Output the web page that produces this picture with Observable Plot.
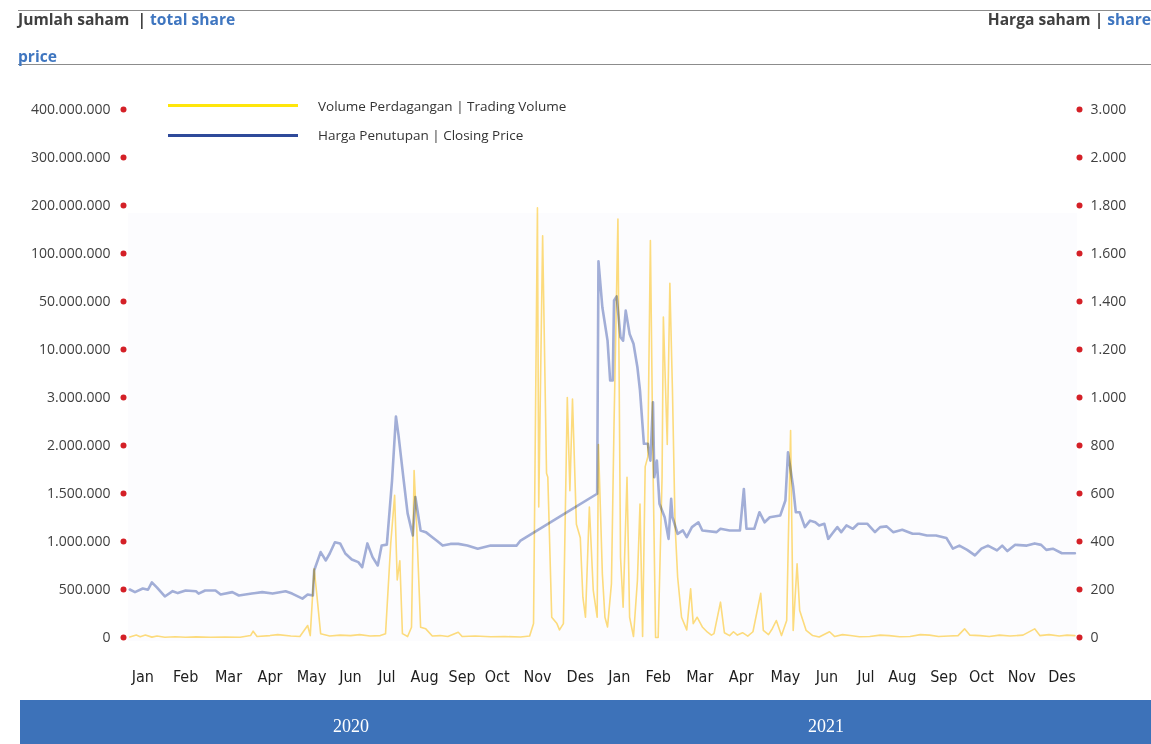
<!DOCTYPE html>
<html><head><meta charset="utf-8">
<script src="https://cdn.jsdelivr.net/npm/d3@7"></script>
<script src="https://cdn.jsdelivr.net/npm/@observablehq/plot@0.6"></script>
<style>
html,body{margin:0;padding:0;background:#fff;}
#wrap{position:relative;width:1151px;height:744px;overflow:hidden;font-family:"Open Sans",sans-serif;}
.hline{position:absolute;left:18px;width:1133px;height:0;border-top:1.6px solid #8c8c8c;}
.head{position:absolute;font-weight:700;font-size:15.6px;line-height:20px;color:#404040;white-space:pre;}
.blue{color:#3F76C0;}
.lg-line{position:absolute;left:168px;width:130px;height:2.5px;}
.lg-text{position:absolute;left:318px;font-size:13.5px;color:#333;line-height:18px;white-space:pre;}
#bg{position:absolute;left:128px;top:213px;width:949px;height:428px;background:#fcfcfe;}
#plots svg{position:absolute;left:0;top:0;}
#yearbar{position:absolute;left:20px;top:700px;width:1131px;height:44px;background:#3D72B9;}
.year{position:absolute;top:716px;width:80px;text-align:center;font-family:"Liberation Serif",serif;font-size:18px;color:#fff;}
</style>
</head><body>
<div id="wrap">
  <div class="hline" style="top:10px"></div>
  <div class="hline" style="top:64px"></div>
  <div class="head" style="left:18px;top:9px">Jumlah saham  | <span class="blue">total share</span></div>
  <div class="head blue" style="left:18px;top:46px">price</div>
  <div class="head" style="right:0;top:9px">Harga saham | <span class="blue">share</span></div>
  <div id="bg"></div>
  <div id="plots"></div>
  <div class="lg-line" style="top:104px;background:#FFE60A"></div>
  <div class="lg-text" style="top:97px">Volume Perdagangan | Trading Volume</div>
  <div class="lg-line" style="top:134px;background:#2F4A9A"></div>
  <div class="lg-text" style="top:126px">Harga Penutupan | Closing Price</div>
  <div id="yearbar"></div>
  <div class="year" style="left:311px">2020</div>
  <div class="year" style="left:786px">2021</div>
</div>
<script>
// ---- axis ticks & labels ----
const leftTicks = [0, 500000, 1000000, 1500000, 2000000, 3000000, 10000000, 50000000, 100000000, 200000000, 300000000, 400000000];
const leftLabels = ["0","500.000","1.000.000","1.500.000","2.000.000","3.000.000","10.000.000","50.000.000","100.000.000","200.000.000","300.000.000","400.000.000"];
const rightTicks = [0, 200, 400, 600, 800, 1000, 1200, 1400, 1600, 1800, 2000, 3000];
const rightLabels = ["0","200","400","600","800","1.000","1.200","1.400","1.600","1.800","2.000","3.000"];
const monthLabels = ["Jan","Feb","Mar","Apr","May","Jun","Jul","Aug","Sep","Oct","Nov","Des","Jan","Feb","Mar","Apr","May","Jun","Jul","Aug","Sep","Oct","Nov","Des"];
const monthLabelDates = ["2020-01-12","2020-02-14","2020-03-18","2020-04-19","2020-05-21","2020-06-20","2020-07-18","2020-08-16","2020-09-14","2020-10-11","2020-11-11","2020-12-14","2021-01-13","2021-02-12","2021-03-16","2021-04-17","2021-05-21","2021-06-22","2021-07-22","2021-08-19","2021-09-20","2021-10-19","2021-11-19","2021-12-20"];

// ---- closing price (Harga Penutupan) ----
const priceDates = ["2020-01-02","2020-01-06","2020-01-12","2020-01-16","2020-01-19","2020-01-23","2020-01-29","2020-02-04","2020-02-08","2020-02-14","2020-02-22","2020-02-24","2020-02-29","2020-03-08","2020-03-12","2020-03-21","2020-03-26","2020-04-05","2020-04-13","2020-04-21","2020-05-01","2020-05-06","2020-05-14","2020-05-18","2020-05-22","2020-05-23","2020-05-28","2020-06-01","2020-06-04","2020-06-08","2020-06-12","2020-06-16","2020-06-21","2020-06-26","2020-06-29","2020-07-03","2020-07-07","2020-07-11","2020-07-14","2020-07-18","2020-07-22","2020-07-25","2020-07-27","2020-07-31","2020-08-03","2020-08-07","2020-08-09","2020-08-13","2020-08-17","2020-08-22","2020-08-26","2020-08-30","2020-09-05","2020-09-11","2020-09-18","2020-09-26","2020-10-06","2020-10-18","2020-10-26","2020-10-29","2020-12-27","2020-12-28","2020-12-31","2021-01-04","2021-01-06","2021-01-08","2021-01-09","2021-01-11","2021-01-14","2021-01-16","2021-01-18","2021-01-21","2021-01-24","2021-01-27","2021-01-29","2021-02-01","2021-02-04","2021-02-06","2021-02-08","2021-02-09","2021-02-11","2021-02-13","2021-02-17","2021-02-20","2021-02-22","2021-02-23","2021-02-27","2021-03-03","2021-03-06","2021-03-10","2021-03-15","2021-03-18","2021-03-29","2021-04-01","2021-04-08","2021-04-16","2021-04-19","2021-04-21","2021-04-27","2021-05-01","2021-05-05","2021-05-09","2021-05-17","2021-05-21","2021-05-23","2021-05-27","2021-05-29","2021-06-01","2021-06-05","2021-06-09","2021-06-13","2021-06-16","2021-06-20","2021-06-23","2021-06-26","2021-06-30","2021-07-03","2021-07-07","2021-07-12","2021-07-16","2021-07-23","2021-07-29","2021-08-02","2021-08-07","2021-08-12","2021-08-19","2021-08-27","2021-09-01","2021-09-07","2021-09-14","2021-09-22","2021-09-27","2021-10-02","2021-10-08","2021-10-14","2021-10-19","2021-10-24","2021-10-31","2021-11-04","2021-11-08","2021-11-14","2021-11-23","2021-11-29","2021-12-04","2021-12-08","2021-12-13","2021-12-20","2021-12-30"];
const priceValues = [200,189,204,199,230,208,171,193,185,196,193,183,196,196,179,189,175,183,189,183,193,183,162,179,175,279,356,321,350,397,392,350,325,314,293,392,335,300,383,387,654,921,842,654,517,425,585,446,439,418,401,383,390,390,383,370,383,383,383,404,599,1568,1376,1237,1071,1071,1404,1421,1251,1237,1362,1265,1224,1126,1029,807,807,737,980,668,737,557,501,411,578,501,432,446,418,460,480,446,439,453,446,446,619,453,453,522,480,501,508,571,772,626,522,522,460,487,480,467,474,411,432,460,439,467,453,474,474,439,460,463,439,449,432,432,425,425,415,370,383,365,342,370,383,363,383,360,386,383,392,386,365,370,351,351];

// ---- trading volume (Volume Perdagangan) ----
const volumeDates = ["2020-01-02","2020-01-07","2020-01-10","2020-01-14","2020-01-19","2020-01-23","2020-01-29","2020-02-06","2020-02-14","2020-02-22","2020-03-04","2020-03-15","2020-03-27","2020-04-04","2020-04-06","2020-04-09","2020-04-19","2020-04-25","2020-05-05","2020-05-12","2020-05-18","2020-05-20","2020-05-23","2020-05-25","2020-05-28","2020-06-04","2020-06-12","2020-06-20","2020-06-27","2020-07-05","2020-07-13","2020-07-17","2020-07-21","2020-07-24","2020-07-26","2020-07-28","2020-07-30","2020-08-03","2020-08-06","2020-08-08","2020-08-10","2020-08-13","2020-08-17","2020-08-22","2020-08-28","2020-09-03","2020-09-11","2020-09-14","2020-09-24","2020-10-06","2020-10-17","2020-10-29","2020-11-05","2020-11-08","2020-11-11","2020-11-12","2020-11-15","2020-11-18","2020-11-19","2020-11-22","2020-11-26","2020-11-28","2020-12-01","2020-12-04","2020-12-06","2020-12-08","2020-12-11","2020-12-14","2020-12-16","2020-12-18","2020-12-21","2020-12-24","2020-12-27","2020-12-28","2020-12-31","2021-01-02","2021-01-04","2021-01-07","2021-01-09","2021-01-12","2021-01-14","2021-01-16","2021-01-19","2021-01-21","2021-01-24","2021-01-27","2021-01-29","2021-01-31","2021-02-02","2021-02-04","2021-02-06","2021-02-08","2021-02-10","2021-02-12","2021-02-15","2021-02-16","2021-02-19","2021-02-21","2021-02-23","2021-02-25","2021-02-27","2021-03-02","2021-03-06","2021-03-09","2021-03-11","2021-03-14","2021-03-18","2021-03-22","2021-03-25","2021-03-27","2021-04-01","2021-04-04","2021-04-08","2021-04-11","2021-04-14","2021-04-18","2021-04-22","2021-04-26","2021-05-02","2021-05-04","2021-05-08","2021-05-11","2021-05-14","2021-05-18","2021-05-22","2021-05-25","2021-05-27","2021-05-30","2021-06-01","2021-06-06","2021-06-11","2021-06-16","2021-06-24","2021-06-28","2021-07-04","2021-07-10","2021-07-17","2021-07-25","2021-08-02","2021-08-09","2021-08-17","2021-08-25","2021-09-02","2021-09-09","2021-09-16","2021-09-24","2021-10-01","2021-10-06","2021-10-10","2021-10-18","2021-10-25","2021-11-02","2021-11-10","2021-11-20","2021-11-29","2021-12-03","2021-12-10","2021-12-18","2021-12-24","2021-12-30"];
const volumeValues = [5000,25000,8000,25000,4000,15000,3000,8000,2000,6000,2000,5000,3000,20000,66000,10000,20000,30000,15000,10000,125000,20000,716000,455000,40000,15000,25000,20000,30000,15000,20000,40000,979000,1480000,600000,800000,40000,10000,107000,1740000,1150000,107000,90000,15000,20000,10000,55000,10000,15000,8000,10000,5000,15000,145000,195000000,1360000,137000000,1710000,1670000,212000,145000,80000,145000,3000000,1530000,2970000,1180000,1040000,420000,211000,1360000,490000,211000,2020000,663000,211000,110000,560000,2450000,172000000,836000,315000,1670000,211000,10000,594000,1390000,10000,1780000,1880000,127000000,1810000,0,0,1670000,37000000,2020000,69000000,4000000,1180000,628000,211000,80000,507000,145000,211000,110000,55000,25000,40000,368000,50000,20000,60000,25000,50000,15000,60000,460000,73000,30000,94000,177000,20000,177000,2310000,73000,767000,280000,73000,20000,5000,60000,10000,30000,20000,8000,10000,25000,20000,8000,10000,30000,25000,10000,15000,20000,90000,25000,20000,10000,25000,15000,25000,90000,20000,30000,15000,25000,20000];

const priceData = priceDates.map((d, i) => ({date: new Date(d), value: priceValues[i]}));
const volumeData = volumeDates.map((d, i) => ({date: new Date(d), value: volumeValues[i]}));
const monthData = monthLabelDates.map((d, i) => ({date: new Date(d), label: monthLabels[i]}));

const common = {
  width: 1151, height: 700,
  marginLeft: 128, marginRight: 74, marginTop: 109, marginBottom: 63,
  style: {background: "transparent", overflow: "visible", fontFamily: "'Open Sans', sans-serif", fontSize: "14px", color: "#404040"}
};
const xScale = {type: "utc", domain: [new Date("2020-01-01"), new Date("2022-01-01")], axis: null};

const pricePlot = Plot.plot({
  ...common,
  x: xScale,
  y: {type: "linear", domain: rightTicks, axis: null},
  marks: [
    Plot.axisY(rightTicks, {anchor: "right", label: null, tickSize: 0, tickPadding: 13,
      tickFormat: d => rightLabels[rightTicks.indexOf(d)], fill: "#404040", fontSize: 14}),
    Plot.dot(rightTicks, {y: d => d, frameAnchor: "right", dx: 2, r: 3, fill: "#D42027", stroke: null}),
    Plot.text(monthData, {x: "date", text: "label", frameAnchor: "bottom", dy: 44,
      fontFamily: "'Liberation Sans Narrow', 'DejaVu Sans Condensed', sans-serif", fontSize: 16, fill: "#1e1e1e"}),
    Plot.line(priceData, {x: "date", y: "value", stroke: "#A2AED7", strokeWidth: 2.6, strokeLinejoin: "round"})
  ]
});

const volumePlot = Plot.plot({
  ...common,
  x: xScale,
  y: {type: "linear", domain: leftTicks, axis: null},
  marks: [
    Plot.axisY(leftTicks, {anchor: "left", label: null, tickSize: 0, tickPadding: 18,
      tickFormat: d => leftLabels[leftTicks.indexOf(d)], fill: "#404040", fontSize: 14}),
    Plot.dot(leftTicks, {y: d => d, frameAnchor: "left", dx: -5, r: 3, fill: "#D42027", stroke: null}),
    Plot.line(volumeData, {x: "date", y: "value", stroke: "#FFD65C", strokeOpacity: 0.8, strokeWidth: 1.6, strokeLinejoin: "round"})
  ]
});
volumePlot.style.mixBlendMode = "multiply";

const host = document.getElementById("plots");
host.appendChild(pricePlot);
host.appendChild(volumePlot);
</script>
</body></html>
